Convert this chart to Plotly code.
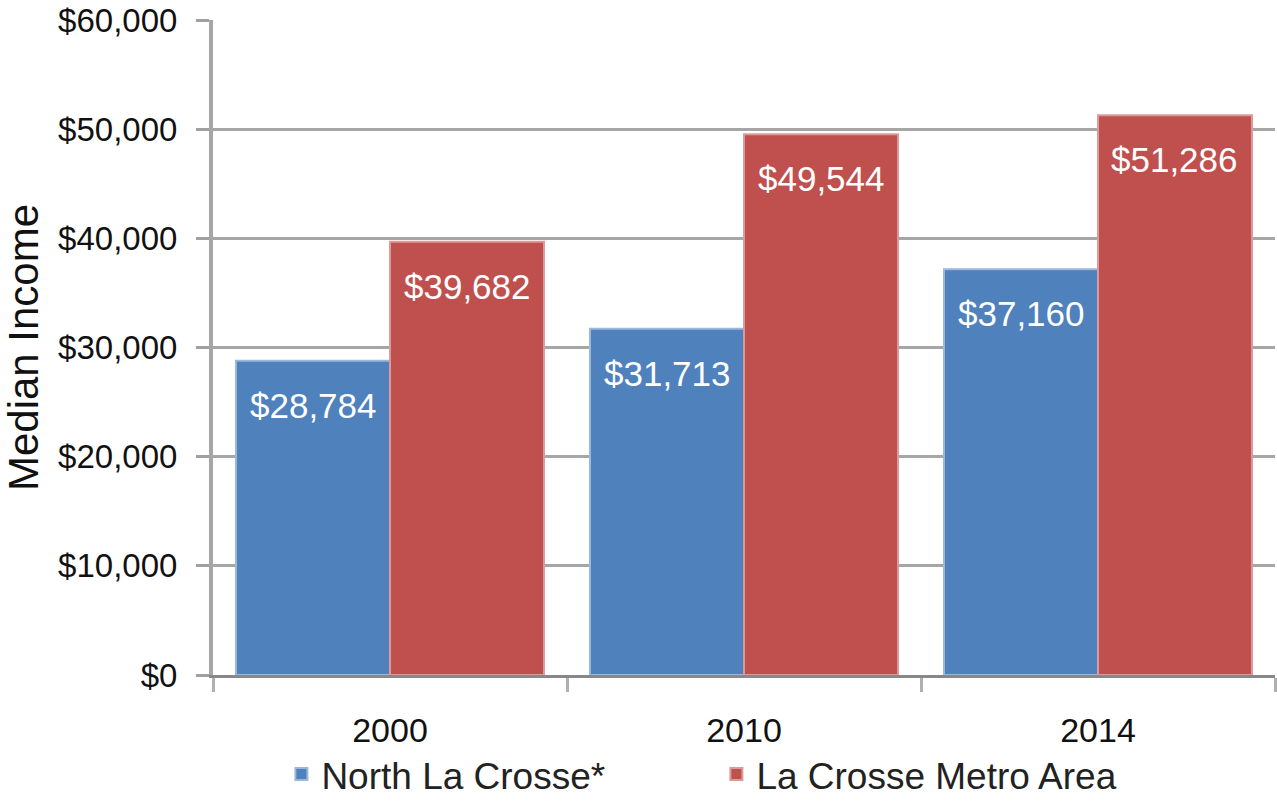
import plotly.graph_objects as go

years = ["2000", "2010", "2014"]
north = [28784, 31713, 37160]
metro = [39682, 49544, 51286]
north_name = "North La Crosse*"
metro_name = "La Crosse Metro Area"

blue = "#4f81bd"
red = "#c0504d"
font = "Liberation Sans"

fig = go.Figure()
fig.add_trace(go.Bar(x=years, y=north, name=north_name, marker=dict(color=blue, line=dict(color="#9bb7dc", width=2))))
fig.add_trace(go.Bar(x=years, y=metro, name=metro_name, marker=dict(color=red, line=dict(color="#dc9a99", width=2))))

bargap = 0.13
half = (1 - bargap) / 4
for i, y in enumerate(years):
    for off, vals in ((-half, north), (half, metro)):
        fig.add_annotation(x=i + off, y=vals[i], xref="x", yref="y", text=f"${vals[i]:,}",
                           showarrow=False, yanchor="top", yshift=-23,
                           font=dict(color="white", size=35, family=font))

fig.update_layout(
    width=1277, height=801,
    margin=dict(l=213, r=2, t=20, b=126, autoexpand=False),
    paper_bgcolor="white", plot_bgcolor="white",
    barmode="group", bargap=bargap, bargroupgap=0,
    font=dict(family=font, color="black"),
    showlegend=True,
    legend=dict(orientation="h", x=0.474, xanchor="center", y=-0.152, yanchor="middle",
                font=dict(size=37, color="#222"), itemwidth=30, entrywidth=390, traceorder="normal"),
    xaxis=dict(type="category", tickson="boundaries", ticks="outside", ticklen=14, tickwidth=3,
               tickcolor="#b0b0b0", showline=True, linecolor="#888888", linewidth=3,
               tickfont=dict(size=34, color="#111"), showgrid=False, automargin=False,
               ticklabelstandoff=23),
    yaxis=dict(range=[0, 60000], dtick=10000, tickformat="$,", ticks="outside", ticklen=13,
               tickwidth=3, tickcolor="#a0a0a0", showline=True, linecolor="#a6a6a6", linewidth=4,
               gridcolor="#a6a6a6", gridwidth=3, zeroline=False, automargin=False,
               ticklabeloverflow="allow", ticklabelstandoff=12,
               tickfont=dict(size=33, color="#111"),
               title=dict(text="Median Income", font=dict(size=42, color="#111"), standoff=34)),
)
fig.write_html("out.html", config={"displayModeBar": False},
               post_script="document.body.style.margin='0';document.body.style.overflow='hidden';")
